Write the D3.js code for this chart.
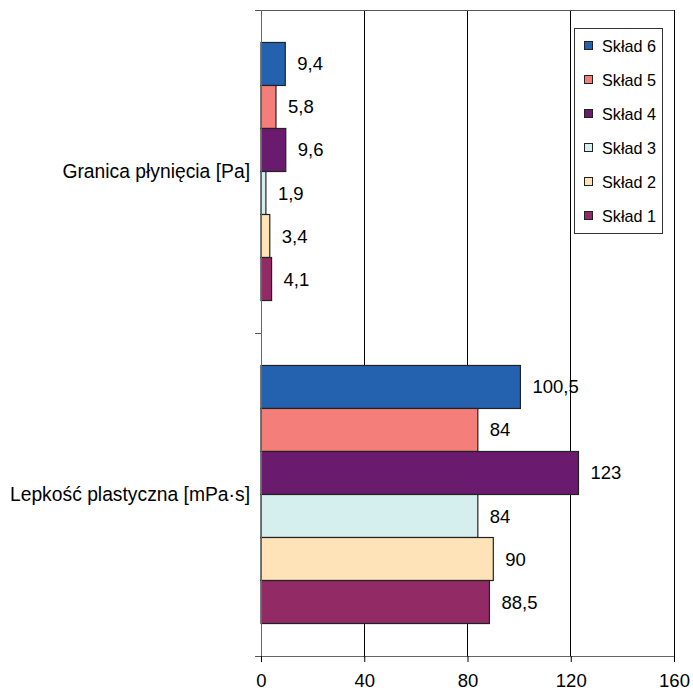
<!DOCTYPE html>
<html>
<head>
<meta charset="utf-8">
<script src="https://cdn.jsdelivr.net/npm/d3@7"></script>
<style>
  html, body { margin: 0; padding: 0; background: #fff; }
  svg { display: block; font-family: "Liberation Sans", Arial, sans-serif; }
</style>
</head>
<body>
<svg id="chart" width="693" height="691"></svg>
<script>
// Measured properties (category axis, top to bottom)
const categories = ["Granica płynięcia [Pa]", "Lepkość plastyczna [mPa·s]"];
// Mixtures, drawn top to bottom inside each category
const seriesNames = ["Skład 6", "Skład 5", "Skład 4", "Skład 3", "Skład 2", "Skład 1"];
const seriesColors = ["#2462b0", "#f47e79", "#6a1b6e", "#d5eeee", "#ffe3b8", "#922a65"];
// Values per mixture: [yield stress, plastic viscosity]
const sklad6 = [9.4, 100.5];
const sklad5 = [5.8, 84];
const sklad4 = [9.6, 123];
const sklad3 = [1.9, 84];
const sklad2 = [3.4, 90];
const sklad1 = [4.1, 88.5];
const seriesValues = [sklad6, sklad5, sklad4, sklad3, sklad2, sklad1];
const xTicks = [0, 40, 80, 120, 160];

const fmt = v => String(v).replace(".", ",");

const svg = d3.select("#chart");
const plotLeft = 261, plotRight = 674, plotTop = 10, plotBottom = 656;

const x = d3.scaleLinear().domain([0, 160]).range([plotLeft, plotRight]);
const y = d3.scaleBand().domain(categories).range([plotTop, plotBottom]).padding(0);
const ySeries = d3.scaleBand().domain(seriesNames)
  .range([0, y.bandwidth()]).paddingInner(0).paddingOuter(0.755);

// vertical gridlines
svg.append("g").selectAll("line")
  .data(xTicks.filter(t => t > 0))
  .join("line")
  .attr("x1", d => x(d)).attr("x2", d => x(d))
  .attr("y1", plotTop).attr("y2", plotBottom)
  .attr("stroke", "#000").attr("stroke-width", 1)
  .attr("shape-rendering", "crispEdges");

// top frame line
svg.append("line")
  .attr("x1", plotLeft - 6).attr("x2", plotRight)
  .attr("y1", plotTop).attr("y2", plotTop)
  .attr("stroke", "#555").attr("shape-rendering", "crispEdges");

// bars
const rows = [];
seriesNames.forEach((s, i) => {
  categories.forEach((c, j) => {
    rows.push({ series: s, cat: c, value: seriesValues[i][j], color: seriesColors[i] });
  });
});

svg.append("g").selectAll("rect")
  .data(rows)
  .join("rect")
  .attr("x", x(0))
  .attr("y", d => y(d.cat) + ySeries(d.series))
  .attr("width", d => x(d.value) - x(0))
  .attr("height", ySeries.bandwidth())
  .attr("fill", d => d.color)
  .attr("stroke", "#222")
  .attr("stroke-width", 1.2);

// value labels
svg.append("g").selectAll("text")
  .data(rows)
  .join("text")
  .attr("x", d => x(d.value) + 12)
  .attr("y", d => y(d.cat) + ySeries(d.series) + ySeries.bandwidth() / 2)
  .attr("dominant-baseline", "central")
  .attr("font-size", 18.5)
  .attr("fill", "#000")
  .text(d => fmt(d.value));

// x axis
const xAxis = svg.append("g")
  .attr("transform", `translate(0,${plotBottom})`)
  .call(d3.axisBottom(x).tickValues(xTicks).tickSize(6).tickPadding(12).tickSizeOuter(0));
xAxis.select(".domain").attr("stroke", "#666").attr("d", `M${plotLeft - 6},0.5H${plotRight}`);
xAxis.selectAll(".tick line").attr("stroke", "#000");
xAxis.selectAll(".tick text")
  .attr("font-size", 18.5)
  .attr("font-family", "'Liberation Sans', Arial, sans-serif")
  .attr("fill", "#000");

// category axis line and boundary ticks
svg.append("line")
  .attr("x1", plotLeft).attr("x2", plotLeft).attr("y1", plotTop).attr("y2", plotBottom)
  .attr("stroke", "#666").attr("shape-rendering", "crispEdges");
svg.append("g").selectAll("line")
  .data([plotTop, y(categories[1]), plotBottom])
  .join("line")
  .attr("x1", plotLeft - 6).attr("x2", plotLeft)
  .attr("y1", d => d).attr("y2", d => d)
  .attr("stroke", "#555").attr("shape-rendering", "crispEdges");

// category labels
svg.append("g").selectAll("text")
  .data(categories)
  .join("text")
  .attr("x", 250)
  .attr("y", d => y(d) + y.bandwidth() / 2)
  .attr("text-anchor", "end")
  .attr("dominant-baseline", "central")
  .attr("font-size", 19.3)
  .attr("fill", "#000")
  .text(d => d);

// legend
const legend = svg.append("g");
legend.append("rect")
  .attr("x", 574.5).attr("y", 28.5)
  .attr("width", 88).attr("height", 205)
  .attr("fill", "#fff").attr("stroke", "#333").attr("stroke-width", 1);
const items = legend.selectAll("g.item")
  .data(seriesNames)
  .join("g")
  .attr("class", "item")
  .attr("transform", (d, i) => `translate(0,${46 + i * 34})`);
items.append("rect")
  .attr("x", 584.5).attr("y", -4.5)
  .attr("width", 8).attr("height", 8)
  .attr("fill", (d, i) => seriesColors[i])
  .attr("stroke", "#222");
items.append("text")
  .attr("x", 602)
  .attr("y", 0)
  .attr("dominant-baseline", "central")
  .attr("font-size", 16.2)
  .attr("fill", "#000")
  .text(d => d);
</script>
</body>
</html>
